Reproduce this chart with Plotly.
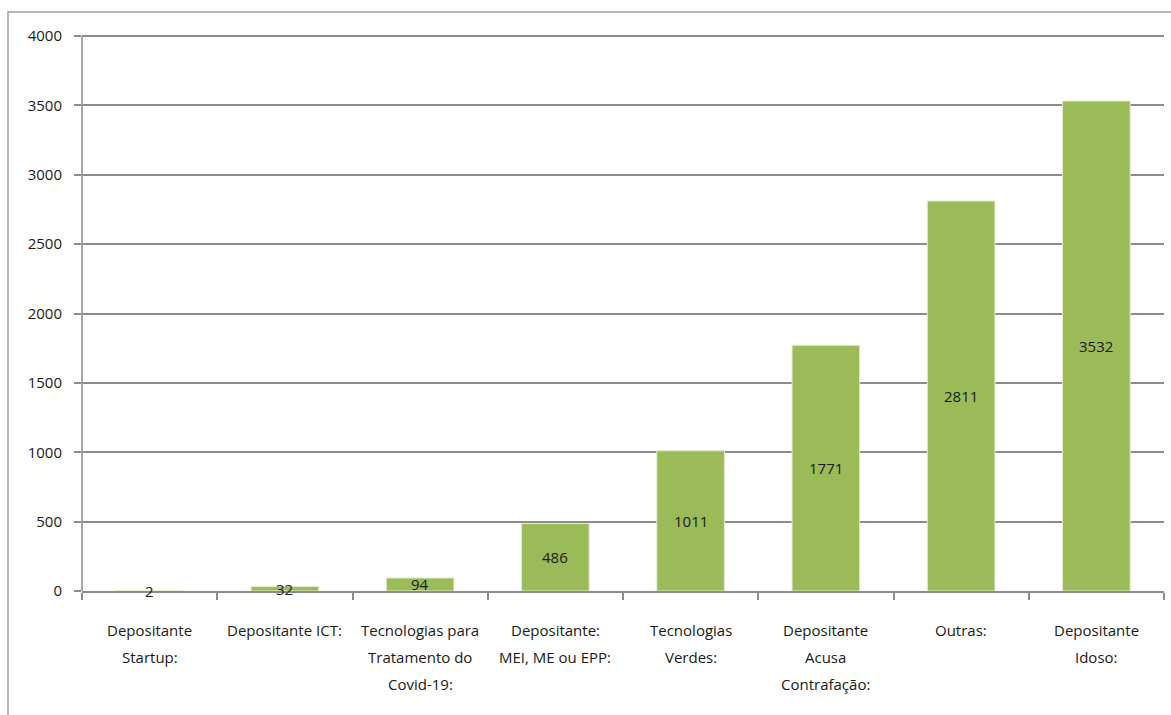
import plotly.graph_objects as go

categories = ["Depositante Startup:", "Depositante ICT:", "Tecnologias para Tratamento do Covid-19:",
              "Depositante: MEI, ME ou EPP:", "Tecnologias Verdes:", "Depositante Acusa Contrafação:",
              "Outras:", "Depositante Idoso:"]
label_lines = [["Depositante", "Startup:"], ["Depositante ICT:"],
               ["Tecnologias para", "Tratamento do", "Covid-19:"],
               ["Depositante:", "MEI, ME ou EPP:"], ["Tecnologias", "Verdes:"],
               ["Depositante", "Acusa", "Contrafação:"], ["Outras:"], ["Depositante", "Idoso:"]]
values = [2, 32, 94, 486, 1011, 1771, 2811, 3532]
y_ticks = [0, 500, 1000, 1500, 2000, 2500, 3000, 3500, 4000]

FONT = "Open Sans, DejaVu Sans, sans-serif"
GRID = "#8c8c8c"
TXT = "#1a1a1a"

fig = go.Figure()
fig.add_trace(go.Bar(
    x=categories, y=values, width=0.5,
    marker=dict(color="#9BBB59", line=dict(color="#e3ecd0", width=1)),
    hoverinfo="x+y",
))

annotations = []
for c, v in zip(categories, values):
    annotations.append(dict(x=c, y=v / 2, xref="x", yref="y", text=str(v), showarrow=False,
                            font=dict(family=FONT, size=15, color=TXT),
                            xanchor="center", yanchor="middle"))
for c, lines in zip(categories, label_lines):
    for i, t in enumerate(lines):
        annotations.append(dict(x=c, y=0, xref="x", yref="y", text=t, showarrow=False,
                                font=dict(family=FONT, size=15, color=TXT),
                                xanchor="center", yanchor="middle", yshift=-39 - 27 * i))

fig.update_layout(
    width=1171, height=715,
    margin=dict(l=82, r=7, t=31, b=124),
    paper_bgcolor="white", plot_bgcolor="white",
    showlegend=False, bargap=0.5,
    font=dict(family=FONT, size=15, color=TXT),
    annotations=annotations,
    shapes=[dict(type="rect", xref="paper", yref="paper",
                 x0=(8 - 82) / 1082, x1=1.2, y0=-0.5, y1=(591 - 12) / 560,
                 line=dict(color="#a0a0a0", width=1.5), fillcolor="rgba(0,0,0,0)", layer="below")],
)
fig.update_xaxes(
    showticklabels=False, tickson="boundaries", ticks="outside", ticklen=7,
    tickcolor=GRID, tickwidth=1.5, showline=True, linecolor=GRID, linewidth=1.5,
    showgrid=False, zeroline=False,
)
fig.update_yaxes(
    range=[0, 4036], tickvals=y_ticks, ticks="outside", ticklen=7, tickcolor=GRID, tickwidth=1.5,
    showline=False, showgrid=True, gridcolor=GRID, gridwidth=1.5,
    zeroline=False, tickfont=dict(family=FONT, size=15, color=TXT), ticklabelstandoff=9,
)
# y-axis line from 0 to 4000 (as in the reference)
fig.add_shape(type="line", xref="paper", yref="y", x0=0, x1=0, y0=0, y1=4000,
              line=dict(color=GRID, width=1.5))

fig.write_html("out.html")
